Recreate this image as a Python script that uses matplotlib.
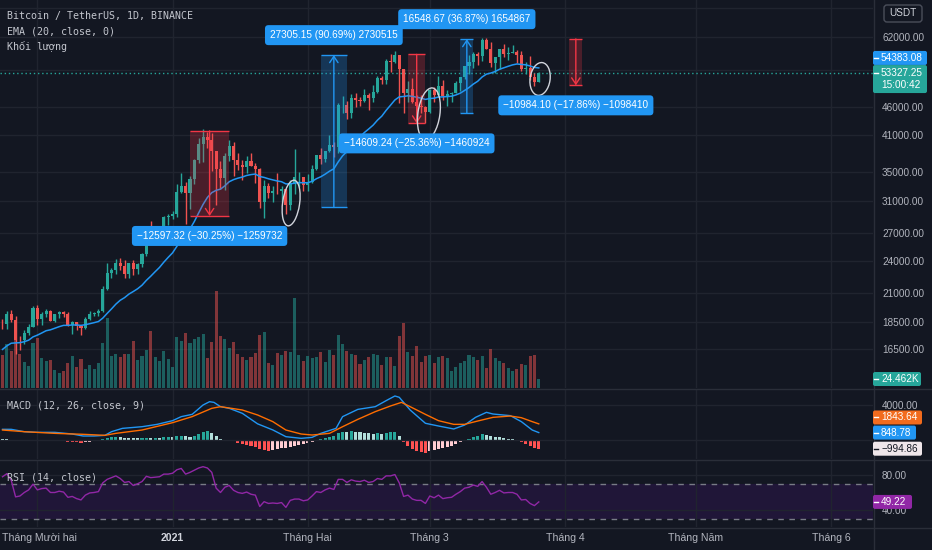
import numpy as np
import pandas as pd
import matplotlib
matplotlib.use("Agg")
import matplotlib.pyplot as plt
import matplotlib.ticker as mticker
import matplotlib.transforms as mtransforms
from matplotlib.patches import FancyBboxPatch, Ellipse, Rectangle
from matplotlib.lines import Line2D

# -----------------------------
first_day = "2020-11-23"

opens = [18370, 18365, 19160, 18720, 17150, 17140, 17720, 18180, 19700, 18760,
         19200, 19430, 18650, 19150, 19360, 19170, 18320, 18550, 18250, 18030,
         18800, 19170, 19270, 19440, 21350, 22800, 23110, 23820, 23450, 22720,
         23800, 23240, 23720, 24680, 26440, 26240, 27040, 27360, 28890, 28980,
         29330, 32180, 33000, 31990, 33950, 36770, 39410, 40630, 40150, 38180,
         35400, 34050, 37370, 39140, 36770, 36020, 35790, 36630, 35890, 35470,
         30850, 32990, 32070, 32260, 32250, 32510, 30400, 33400, 34270, 34300,
         33100, 33520, 35470, 37620, 36940, 38290, 39260, 38870, 46450, 46510,
         44840, 47970, 47400, 47260, 48590, 47910, 49150, 52150, 51600, 55910,
         55860, 57410, 54090, 48890, 49680, 47020, 46280, 46110, 45140, 49590,
         48440, 50350, 48370, 48750, 48880, 50970, 52380, 54880, 55860, 57800,
         57230, 61190, 59000, 55600, 56900, 58910, 57650, 58030, 58100, 57350,
         54080, 54340, 52300, 51300]

highs = [18750, 19420, 19500, 19000, 17460, 17880, 18360, 19860, 19890, 19340,
         19570, 19510, 19180, 19420, 19420, 19300, 18640, 18560, 18290, 18950,
         19410, 19350, 19570, 21560, 23800, 23280, 24170, 24300, 24100, 23840,
         24100, 23780, 24780, 26870, 28420, 27500, 27400, 28990, 29300, 29600,
         33300, 34780, 33600, 34360, 36940, 40370, 41950, 41380, 41350, 38260,
         36630, 37850, 40100, 39750, 37950, 36850, 37470, 37850, 36420, 35600,
         33830, 33460, 32940, 34880, 32920, 32560, 33780, 38530, 34930, 34330,
         34720, 35980, 37660, 38710, 38310, 40960, 39700, 46800, 48200, 47310,
         48680, 48980, 48150, 49700, 49000, 50650, 52620, 52550, 56370, 57700,
         58350, 57530, 54180, 51370, 52040, 48400, 48390, 46200, 49790, 50200,
         52640, 51770, 49450, 49200, 51450, 52400, 54900, 57390, 58150, 58060,
         61790, 61680, 60630, 56940, 58980, 60100, 59470, 59880, 58600, 58420,
         55830, 57200, 53230, 53500]

lows = [18000, 18018, 18570, 16200, 16440, 16880, 17520, 18180, 18320, 18330,
        18920, 18590, 18500, 18860, 18900, 18200, 17650, 17910, 17570, 18020,
        18710, 19000, 19050, 19300, 21230, 22350, 22750, 23060, 22350, 22350,
        22600, 22700, 23430, 24500, 25800, 26100, 25880, 27320, 28000, 28620,
        28950, 31960, 28130, 29900, 33290, 36300, 36500, 38720, 35110, 30420,
        32530, 32380, 36700, 34410, 35360, 33850, 34800, 35850, 33400, 30070,
        28850, 31390, 30830, 31910, 30840, 29240, 29840, 31900, 32830, 32300,
        32300, 33420, 35360, 36160, 36570, 38140, 37350, 37990, 45000, 43730,
        44000, 46120, 46200, 47050, 45500, 47000, 48950, 50880, 50800, 53400,
        55460, 46900, 44900, 47000, 46900, 44100, 45000, 43000, 45000, 47050,
        48100, 47500, 46300, 47070, 48880, 49270, 51840, 53000, 54270, 55000,
        56080, 58900, 54600, 53270, 54120, 57020, 56270, 57820, 55450, 53650,
        53000, 51700, 50430, 51280]

closes = [18365, 19160, 18720, 17150, 17140, 17720, 18180, 19700, 18760, 19200,
          19430, 18650, 19150, 19360, 19170, 18320, 18550, 18250, 18030, 18800,
          19170, 19270, 19440, 21350, 22800, 23110, 23820, 23450, 22720, 23800,
          23240, 23720, 24680, 26440, 26240, 27040, 27360, 28890, 28980, 29330,
          32180, 33000, 31990, 33950, 36770, 39410, 40630, 40150, 38180, 35400,
          34050, 37370, 39140, 36770, 36020, 35790, 36630, 35890, 35470, 30850,
          32990, 32070, 32260, 32250, 32510, 30400, 33400, 34270, 34300, 33100,
          33520, 35470, 37620, 36940, 38290, 39260, 38870, 46450, 46510, 44840,
          47970, 47400, 47260, 48590, 47910, 49150, 52150, 51600, 55910, 55860,
          57410, 54090, 48890, 49680, 47020, 46280, 46110, 45140, 49590, 48440,
          50350, 48370, 48750, 48880, 50970, 52380, 54880, 55860, 57800, 57230,
          61190, 59000, 55600, 56900, 58910, 57650, 58030, 58100, 57350, 54080,
          54340, 52300, 51300, 53327.25]

# volume en milliers de BTC
volumes_k = [89, 120, 100, 137, 92, 71, 59, 122, 136, 81,
             73, 77, 48, 41, 45, 68, 86, 57, 78, 52,
             62, 52, 68, 122, 190, 86, 93, 84, 93, 93,
             128, 75, 86, 104, 155, 84, 73, 100, 80, 57,
             139, 128, 149, 123, 134, 140, 147, 81, 125, 263,
             141, 132, 109, 125, 92, 85, 76, 84, 96, 143,
             152, 69, 62, 94, 91, 101, 98, 245, 90, 73,
             86, 82, 84, 97, 70, 103, 89, 145, 121, 101,
             93, 91, 65, 76, 83, 92, 91, 63, 83, 84,
             61, 141, 177, 97, 86, 115, 70, 86, 89, 67,
             85, 86, 82, 45, 57, 69, 74, 89, 85, 76,
             86, 54, 107, 82, 73, 69, 54, 46, 51, 65,
             62, 88, 91, 24.462]

ema20 = [16500, 16750, 16940, 16960, 16980, 17050, 17160, 17400, 17530, 17690,
         17860, 17930, 18050, 18170, 18270, 18270, 18300, 18300, 18270, 18320,
         18400, 18480, 18570, 18840, 19220, 19590, 19990, 20320, 20550, 20860,
         21090, 21340, 21660, 22110, 22500, 22930, 23350, 23880, 24370, 24840,
         25540, 26250, 26800, 27490, 28370, 29430, 30500, 31420, 32060, 32380,
         32540, 33000, 33580, 33880, 34090, 34250, 34480, 34610, 34690, 34330,
         34200, 34000, 33840, 33690, 33580, 33270, 33280, 33370, 33460, 33430,
         33440, 33630, 34010, 34290, 34670, 35110, 35470, 36520, 37470, 38170,
         39100, 39890, 40600, 41360, 41990, 42670, 43580, 44340, 45440, 46440,
         47480, 48110, 48190, 48330, 48210, 48030, 47850, 47590, 47780, 47840,
         48080, 48110, 48170, 48240, 48500, 48870, 49440, 50050, 50790, 51400,
         52330, 52970, 53220, 53570, 54080, 54420, 54770, 55090, 55300, 55190,
         55110, 54840, 54500, 54383.08]

# MACD (12, 26, close, 9) : points
macd_days = [0, 2, 5, 8, 12, 16, 18.5, 21, 23.5, 25, 27.5, 32, 35.5, 39, 41, 43.5,
             46, 47.5, 48.5, 50, 52, 55, 58.5, 62, 65, 68.5, 71, 73, 76.5, 78,
             81.5, 85.5, 88, 90, 91, 93.5, 97, 100, 103.5, 106, 108.5, 111, 112.5,
             116.5, 119, 121.5, 123]
macd_line = [1220, 1220, 950, 875, 875, 686, 457, 457, 533, 950, 1330, 1520, 1790,
             2210, 2670, 2930, 4000, 4380, 4300, 3810, 3620, 3050, 1850, 1150, 380,
             190, 300, 760, 1330, 2670, 3500, 3810, 4500, 5030, 4880, 3430, 1910,
             1600, 1260, 1710, 2590, 3160, 2970, 2780, 2100, 1140, 848.78]
signal_days = [0, 5, 12, 18.5, 23.5, 26, 32, 39, 43.5, 48, 50, 55, 58.5, 62, 65,
               68.5, 71, 75, 78, 81.5, 85.5, 89, 91.5, 93.5, 97, 100, 103.5, 106,
               109, 112.5, 116.5, 119, 121.5, 123]
signal_line = [1140, 950, 760, 650, 533, 760, 1140, 1980, 2670, 3620, 3810, 3430,
               2860, 2100, 1140, 686, 570, 760, 1520, 2360, 3240, 3890, 4300, 3810,
               2930, 2210, 1790, 1790, 2170, 2590, 2740, 2550, 2100, 1843.64]
macd_hist = [80, 60, 30, -20, -40, -50, -40, -30, -40, -50,
             -60, -80, -100, -120, -140, -200, -240, -280, -300, -270,
             -220, -170, -110, 60, 250, 330, 380, 340, 260, 250,
             220, 200, 210, 260, 240, 250, 250, 300, 320, 300,
             420, 480, 420, 350, 450, 700, 950, 1050, 850, 480,
             120, -60, -40, -160, -320, -450, -550, -680, -800, -1050,
             -1150, -1200, -1150, -1050, -950, -950, -800, -640, -520, -420,
             -330, -200, -40, 100, 260, 380, 440, 760, 950, 920,
             1000, 960, 880, 850, 760, 700, 760, 700, 820, 860,
             900, 420, -250, -700, -1000, -1250, -1350, -1450, -1200, -1100,
             -1000, -950, -850, -700, -500, -280, -50, 150, 350, 430,
             680, 600, 420, 330, 300, 220, 150, 60, -60, -250,
             -420, -640, -860, -994.86]

rsi14 = [78, 81.5, 74, 55, 56, 60, 63, 69.5, 63, 64.5,
         65, 60, 60, 61.5, 60.5, 54.5, 55.5, 53, 51.5, 57,
         59.5, 60, 61, 71, 75, 77, 79, 76, 71.5, 72.5,
         68, 70, 72.5, 78.5, 77, 77.5, 78, 81, 81, 82,
         86, 87.5, 81, 83, 85.5, 88, 89.5, 88, 83, 65,
         60, 66, 68, 62.5, 60, 59, 60.5, 58, 57, 44,
         49.5, 47.5, 48, 47.5, 48.5, 43, 51, 52.5, 52.5, 50.5,
         51.5, 56, 61, 60, 63, 65, 63.5, 75, 75, 71.5,
         74.5, 73, 72.5, 74, 71.5, 72.5, 76, 75, 79, 79,
         80.5, 71, 55.5, 57, 52.5, 51, 51, 47.5, 56, 54,
         57, 53, 54, 54.5, 58, 61, 65, 66, 68.5, 67,
         72.5, 66, 58, 60, 62.5, 59.5, 60, 60, 58, 51.5,
         52, 47.5, 45, 49.22]

# outils "plage de prix" dessinés sur le graphique
range_start = [43, 73, 93, 105, 130]
range_end = [52, 79, 97, 108, 133]
range_from = [41644, 30108, 57607, 44883, 61501]
range_to = [29046.68, 57413.15, 42997.76, 61431.67, 50516.9]
range_text = ["\u221212597.32 (\u221230.25%) \u22121259732",
              "27305.15 (90.69%) 2730515",
              "\u221214609.24 (\u221225.36%) \u22121460924",
              "16548.67 (36.87%) 1654867",
              "\u221210984.10 (\u221217.86%) \u22121098410"]

# cercles à main levée
circle_day = [66.2, 97.8, 123.3]
circle_price = [30680, 44790, 51900]

price_ticks = [16500, 18500, 21000, 24000, 27000, 31000, 35000, 41000, 46000,
               54000, 62000, 70000]
hidden_ticks = [54000, 70000, 0]   # cachés derrière les étiquettes de valeur
month_dates = ["2020-12-01", "2021-01-01", "2021-02-01", "2021-03-01",
               "2021-04-01", "2021-05-01", "2021-06-01"]
month_labels = ["Tháng Mười hai", "2021", "Tháng Hai", "Tháng 3", "Tháng 4",
                "Tháng Năm", "Tháng 6"]
countdown = "15:00:42"

# 2. Style
# -----------------------------
BG = "#131722"
GRID = "#20242f"
SEP = "#2a2e39"
TXT = "#b2b5be"
UP = "#26a69a"
DOWN = "#ef5350"
BLUE = "#2196f3"
ORANGE = "#ff6d00"
TOOL_RED = "#f23645"
PURPLE = "#9127a6"
NUM = ["Liberation Sans", "DejaVu Sans"]
MONO = ["DejaVu Sans Mono", "DejaVu Sans"]

W, H = 932, 550
AXIS_X = 873

days = np.arange(len(closes))
t0 = pd.Timestamp(first_day)
month_x = [(pd.Timestamp(d) - t0).days for d in month_dates]
o = np.array(opens, float)
c = np.array(closes, float)
up = c >= o
cols = np.where(up, UP, DOWN)

fig = plt.figure(figsize=(W / 100, H / 100), dpi=100, facecolor=BG)


def rect_px(left, top, right, bottom):
    return [left / W, 1 - bottom / H, (right - left) / W, (bottom - top) / H]


def fmt(v, p):
    return "" if v in hidden_ticks else f"{v:.2f}"


ax_bg = fig.add_axes(rect_px(0, 0, AXIS_X, 388))
ax_vol = fig.add_axes(rect_px(0, 0, AXIS_X, 388), sharex=ax_bg)
ax = fig.add_axes(rect_px(0, 0, AXIS_X, 388), sharex=ax_bg, sharey=ax_bg)
ax_macd = fig.add_axes(rect_px(0, 389, AXIS_X, 459), sharex=ax_bg)
ax_rsi = fig.add_axes(rect_px(0, 460, AXIS_X, 527), sharex=ax_bg)

for a in (ax_bg, ax_vol, ax, ax_macd, ax_rsi):
    for s in a.spines.values():
        s.set_visible(False)
    a.set_facecolor(BG)
ax_vol.patch.set_visible(False)
ax.patch.set_visible(False)

ax_bg.set_xlim(-0.573, 199.66)
ax_bg.set_yscale("log")
ax_bg.set_ylim(14012, 72520)
ax_bg.set_xticks(month_x)
ax_bg.yaxis.set_major_locator(mticker.FixedLocator(price_ticks))
ax_bg.yaxis.set_major_formatter(mticker.FuncFormatter(fmt))
ax_bg.yaxis.set_minor_locator(mticker.NullLocator())
ax_bg.yaxis.tick_right()
ax_bg.tick_params(axis="y", length=0, pad=6.5, labelsize=7.2, labelcolor=TXT)
ax_bg.tick_params(axis="x", length=0, labelbottom=False)
for lab in ax_bg.get_yticklabels():
    lab.set_family(NUM)
ax_bg.grid(True, color=GRID, lw=1)

ax.tick_params(axis="both", which="both", length=0, labelleft=False, labelright=False,
               labelbottom=False)
ax_vol.tick_params(axis="both", length=0, labelleft=False, labelbottom=False)
ax_vol.set_ylim(0, 388 * 2.72)

# 3. Volume, bougies, EMA
# -----------------------------
ax_vol.bar(days, volumes_k, width=0.7, color=cols, alpha=0.5, lw=0)

ax.vlines(days, lows, highs, colors=cols, lw=1, zorder=2)
body = np.maximum(np.abs(c - o), o * 0.0015)
ax.bar(days, body, bottom=np.minimum(o, c), width=0.7, color=cols, lw=0, zorder=3)
ax.plot(days, ema20, color=BLUE, lw=1.1, zorder=4)
ax.axhline(closes[-1], color=UP, lw=1, ls=(0, (1, 2)), zorder=1)

# 4. Outils de mesure + cercles
# -----------------------------
for d0, d1, p0, p1, txt in zip(range_start, range_end, range_from, range_to, range_text):
    col = TOOL_RED if p1 < p0 else BLUE
    ax.add_patch(Rectangle((d0, min(p0, p1)), d1 - d0, abs(p1 - p0),
                           fc=col, alpha=0.25, lw=0, zorder=5))
    ax.hlines([p0, p1], d0, d1, color=col, lw=1, zorder=5)
    mid = (d0 + d1) / 2
    ax.annotate("", xy=(mid, p1), xytext=(mid, p0),
                arrowprops=dict(arrowstyle="->,head_length=0.45,head_width=0.3",
                                color=col, lw=1, shrinkA=0, shrinkB=0), zorder=6)
    off = -20 if p1 < p0 else 20
    ax.annotate(txt, xy=(mid, p1), xytext=(0, off), textcoords="offset pixels",
                ha="center", va="center", color="white", fontsize=7.2, family=NUM,
                bbox=dict(boxstyle="round,pad=0.5,rounding_size=0.35", fc=BLUE, ec="none"),
                zorder=7)

circle_size = [(17, 46), (22, 52), (20, 33)]
for d, p, (w, h) in zip(circle_day, circle_price, circle_size):
    tr = fig.dpi_scale_trans + mtransforms.ScaledTranslation(d, p, ax.transData)
    ax.add_patch(Ellipse((0, 0), w / 100, h / 100, angle=-8, transform=tr,
                         fill=False, ec="#d1d4dc", lw=1, zorder=6))

# 5. MACD
# -----------------------------
hist = np.array(macd_hist)
prev = np.r_[hist[0], hist[:-1]]
hcols = np.where(hist >= 0, np.where(hist > prev, "#26a69a", "#b2dfdb"),
                 np.where(hist < prev, "#ff5252", "#ffcdd2"))
ax_macd.bar(days, hist, width=0.7, color=hcols, lw=0)
ax_macd.plot(macd_days, macd_line, color=BLUE, lw=1)
ax_macd.plot(signal_days, signal_line, color=ORANGE, lw=1)
ax_macd.set_ylim(-2171, 5829)
ax_macd.set_yticks([0, 4000])
ax_macd.yaxis.set_major_formatter(mticker.FuncFormatter(fmt))
ax_macd.yaxis.tick_right()
ax_macd.tick_params(axis="y", length=0, pad=6.5, labelsize=7.2, labelcolor=TXT)
ax_macd.tick_params(axis="x", length=0, labelbottom=False)
for lab in ax_macd.get_yticklabels():
    lab.set_family(NUM)
ax_macd.grid(True, color=GRID, lw=1)

# 6. RSI
# -----------------------------
ax_rsi.axhspan(30, 70, color="#9915ff", alpha=0.1, lw=0)
ax_rsi.axhline(70, color="#787b86", lw=1, ls=(0, (4, 4)))
ax_rsi.axhline(30, color="#787b86", lw=1, ls=(0, (4, 4)))
ax_rsi.plot(days, rsi14, color=PURPLE, lw=1)
ax_rsi.set_ylim(20.57, 97.14)
ax_rsi.set_yticks([40, 80])
ax_rsi.yaxis.set_major_formatter(mticker.FuncFormatter(lambda v, p: f"{v:.2f}"))
ax_rsi.yaxis.tick_right()
ax_rsi.tick_params(axis="y", length=0, pad=6.5, labelsize=7.2, labelcolor=TXT)
ax_rsi.tick_params(axis="x", length=0, labelbottom=False)
for lab in ax_rsi.get_yticklabels():
    lab.set_family(NUM)
ax_rsi.grid(True, color=GRID, lw=1)

tb = mtransforms.blended_transform_factory(ax_rsi.transData, ax_rsi.transAxes)
for x, lab in zip(month_x, month_labels):
    bold = lab == "2021"
    if x == month_x[0]:
        ax_rsi.text(0.002, -0.164, lab, transform=ax_rsi.transAxes, ha="left", va="center",
                    fontsize=7.6, family=NUM, color=TXT)
    else:
        ax_rsi.text(x, -0.164, lab, transform=tb, ha="center", va="center", fontsize=7.6,
                    family=NUM, color="#d1d4dc" if bold else TXT,
                    fontweight="bold" if bold else "normal")

# 7. Séparateurs, légendes, étiquettes de l'échelle
# -----------------------------
ident = mtransforms.IdentityTransform()
for yy in (388.5, 459.5, 527.5):
    fig.add_artist(Line2D([0, W], [H - yy, H - yy], color=SEP, lw=1, transform=ident))
fig.add_artist(Line2D([AXIS_X + 0.5, AXIS_X + 0.5], [0, H], color=SEP, lw=1, transform=ident))

legend = [("Bitcoin / TetherUS, 1D, BINANCE", 16), ("EMA (20, close, 0)", 32),
          ("Khối lượng", 47), ("MACD (12, 26, close, 9)", 405), ("RSI (14, close)", 477)]
for txt, yy in legend:
    fig.text(7 / W, 1 - yy / H, txt, fontsize=7.2, family=MONO, color="#c3c6ce",
             va="center", ha="left")


def y_pix(axis, value):
    return H - axis.transData.transform((0, value))[1]


def tag(axis, value, text, face, fg="white", dy=0.0, width=54, height=14, dash_on_value=False):
    yv = y_pix(axis, value)
    yc = yv + dy
    fig.add_artist(FancyBboxPatch((AXIS_X, H - yc - height / 2), width, height,
                                  boxstyle="round,pad=0,rounding_size=2", transform=ident,
                                  fc=face, ec="none", zorder=5))
    yd = yv if dash_on_value else yc
    fig.add_artist(Line2D([AXIS_X + 1, AXIS_X + 5], [H - yd, H - yd], color=fg, lw=1,
                          transform=ident, zorder=6))
    fig.text((AXIS_X + 8) / W, 1 - yc / H, text, color=fg, fontsize=7.2, family=NUM,
             va="center", ha="left", linespacing=1.3, zorder=7)


tag(ax, ema20[-1], f"{ema20[-1]:.2f}", BLUE, dy=-10)
tag(ax, closes[-1], f"{closes[-1]:.2f}\n{countdown}", UP, dy=6.5, height=28, dash_on_value=True)
tag(ax_vol, volumes_k[-1], f"{volumes_k[-1]:.3f}K", UP, width=48)
tag(ax_macd, signal_line[-1], f"{signal_line[-1]:.2f}", "#f26b1d", dy=-6.4, width=49)
tag(ax_macd, macd_line[-1], f"{macd_line[-1]:.2f}", BLUE, width=43)
tag(ax_macd, macd_hist[-1], f"\u2212{abs(macd_hist[-1]):.2f}", "#efe6ea", fg=BG, width=49)
tag(ax_rsi, rsi14[-1], f"{rsi14[-1]:.2f}", PURPLE, width=39)

fig.add_artist(FancyBboxPatch((884, H - 22), 38, 17, boxstyle="round,pad=0,rounding_size=3",
                              transform=ident, fc=BG, ec="#4a4e5a", lw=1, zorder=5))
fig.text(903 / W, 1 - 13.5 / H, "USDT", fontsize=7.2, family=NUM, color="#d1d4dc",
         ha="center", va="center", zorder=6)

plt.savefig("out.png", dpi=100, facecolor=BG)
